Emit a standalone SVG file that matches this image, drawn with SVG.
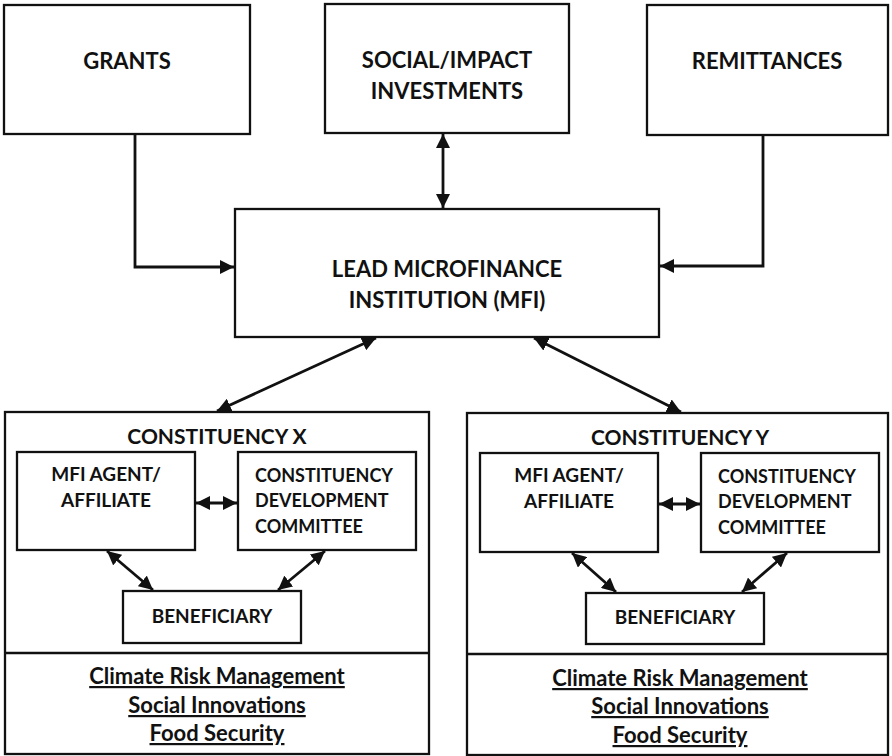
<svg xmlns="http://www.w3.org/2000/svg" width="892" height="756" viewBox="0 0 892 756">
<style>
.box{fill:#fff;stroke:#111;stroke-width:2.3}
.t{font-family:Lato,"Open Sans",sans-serif;font-weight:bold;font-size:22px;fill:#111;text-anchor:middle}
.h{font-size:21px}
.s{font-size:19px}
.d{font-size:18px;text-anchor:start}
.f{font-size:22px;text-decoration:underline}
.c{fill:none;stroke:#111;stroke-width:2.8}
</style>
<defs>
<marker id="ah" viewBox="0 0 10 10" refX="10" refY="5" markerWidth="5" markerHeight="5" orient="auto-start-reverse" markerUnits="strokeWidth">
<path d="M0,0 L10,5 L0,10 z" fill="#111"/>
</marker>
</defs>
<rect width="892" height="756" fill="#fff"/>
<g id="grants"><rect class="box" x="4" y="5" width="246" height="129"/><text class="t" x="127" y="69">GRANTS</text></g>
<g id="social"><rect class="box" x="325" y="4" width="244" height="129"/><text class="t" x="447" y="68">SOCIAL/IMPACT</text><text class="t" x="447" y="99">INVESTMENTS</text></g>
<g id="remit"><rect class="box" x="647" y="5" width="241" height="130"/><text class="t" x="767" y="69">REMITTANCES</text></g>
<g id="lead"><rect class="box" x="235" y="209" width="424" height="128"/><text class="t" x="447" y="277">LEAD MICROFINANCE</text><text class="t" x="447" y="308">INSTITUTION (MFI)</text></g>
<g id="constX">
<rect class="box" x="5" y="412" width="424" height="342"/><line x1="5" y1="653" x2="429" y2="653" stroke="#111" stroke-width="2.3"/>
<text class="t h" x="217" y="444">CONSTITUENCY X</text>
<text class="t f" x="217" y="684">Climate Risk Management</text>
<text class="t f" x="217" y="713">Social Innovations</text>
<text class="t f" x="217" y="741">Food Security</text>
</g>
<g id="agentX"><rect class="box" x="17" y="452" width="178" height="98"/><text class="t s" x="106" y="481">MFI AGENT/</text><text class="t s" x="106" y="507">AFFILIATE</text></g>
<g id="cdcX"><rect class="box" x="238" y="452" width="178" height="98"/><text class="t d" x="255" y="482">CONSTITUENCY</text><text class="t d" x="255" y="507">DEVELOPMENT</text><text class="t d" x="255" y="533">COMMITTEE</text></g>
<g id="benX"><rect class="box" x="123" y="591" width="178" height="52"/><text class="t s" x="212" y="623">BENEFICIARY</text></g>
<g id="constY">
<rect class="box" x="467" y="413" width="421" height="342"/><line x1="467" y1="654" x2="888" y2="654" stroke="#111" stroke-width="2.3"/>
<text class="t h" x="680" y="445">CONSTITUENCY Y</text>
<text class="t f" x="680" y="686">Climate Risk Management</text>
<text class="t f" x="680" y="714">Social Innovations</text>
<text class="t f" x="680" y="743">Food Security</text>
</g>
<g id="agentY"><rect class="box" x="480" y="453" width="178" height="99"/><text class="t s" x="569" y="482">MFI AGENT/</text><text class="t s" x="569" y="508">AFFILIATE</text></g>
<g id="cdcY"><rect class="box" x="701" y="453" width="178" height="99"/><text class="t d" x="718" y="483">CONSTITUENCY</text><text class="t d" x="718" y="508">DEVELOPMENT</text><text class="t d" x="718" y="534">COMMITTEE</text></g>
<g id="benY"><rect class="box" x="586" y="593" width="178" height="51"/><text class="t s" x="675" y="624">BENEFICIARY</text></g>
<g id="connectors">
<polyline class="c" points="135,134 135,267 234,267" marker-end="url(#ah)"/>
<polyline class="c" points="763,135 763,266 660,266" marker-end="url(#ah)"/>
<line class="c" x1="443" y1="134" x2="443" y2="208" marker-start="url(#ah)" marker-end="url(#ah)"/>
<line class="c" x1="376" y1="338" x2="217" y2="411" marker-start="url(#ah)" marker-end="url(#ah)"/>
<line class="c" x1="534" y1="338" x2="681" y2="412" marker-start="url(#ah)" marker-end="url(#ah)"/>
<line class="c" x1="196" y1="503" x2="237" y2="503" marker-start="url(#ah)" marker-end="url(#ah)"/>
<line class="c" x1="107" y1="551" x2="153" y2="590" marker-start="url(#ah)" marker-end="url(#ah)"/>
<line class="c" x1="325" y1="551" x2="278" y2="590" marker-start="url(#ah)" marker-end="url(#ah)"/>
<line class="c" x1="659" y1="504" x2="700" y2="504" marker-start="url(#ah)" marker-end="url(#ah)"/>
<line class="c" x1="572" y1="553" x2="616" y2="592" marker-start="url(#ah)" marker-end="url(#ah)"/>
<line class="c" x1="787" y1="553" x2="742" y2="592" marker-start="url(#ah)" marker-end="url(#ah)"/>
</g>
</svg>
